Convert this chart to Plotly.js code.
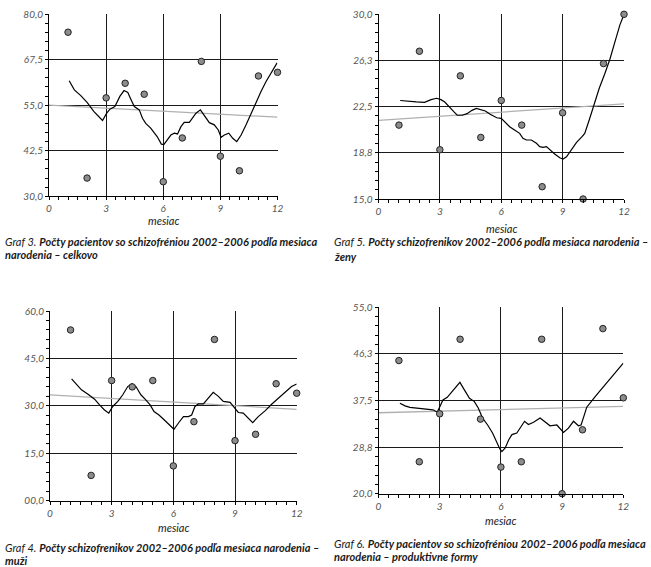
<!DOCTYPE html>
<html>
<head>
<meta charset="utf-8">
<script src="https://cdn.plot.ly/plotly-3.0.1.min.js"></script>
<style>
  html, body { margin: 0; padding: 0; background: #fff; }
  #chart { width: 651px; height: 567px; }
</style>
</head>
<body>
<div id="chart"></div>
<script>
// ---- data ----
const months = [1, 2, 3, 4, 5, 6, 7, 8, 9, 10, 11, 12];
const xTickVals = [0, 3, 6, 9, 12];
const xTickText = ['0', '3', '6', '9', '12'];
const trendX = [0, 12];

// Graf 3 – celkovo
const celkovo = [75, 35, 57, 61, 58, 34, 46, 67, 41, 37, 63, 64];
const celkovoTrend = [55.0, 51.7];
const celkovoCurveX = [1.06,1.33,1.67,2.01,2.35,2.61,2.81,3.03,3.2,3.46,3.72,3.94,4.14,4.31,4.48,4.74,4.91,5.08,5.34,5.68,5.9,6.03,6.18,6.4,6.58,6.75,6.93,7.1,7.37,7.54,7.72,7.95,8.16,8.42,8.68,8.89,9.04,9.21,9.44,9.65,9.86,10.09,10.35,10.61,10.88,11.14,11.4,11.75,11.98];
const celkovoCurveY = [61.7,59.2,57.6,55.7,53.3,52.0,50.8,52.8,53.9,54.6,57.4,59.0,58.5,56.5,54.6,53.7,51.4,50.0,48.7,46.4,44.3,44.2,45.4,46.8,47.3,47.1,49.1,50.3,50.3,51.4,52.8,53.7,52.1,50.2,49.6,48.2,46.2,46.8,47.3,45.9,45.0,46.8,49.6,52.8,55.6,58.8,61.5,64.7,66.6];
const celkovoTickVals = [30, 42.5, 55, 67.5, 80];
const celkovoTickText = ['30,0', '42,5', '55,0', '67,5', '80,0'];

// Graf 5 – ženy
const zeny = [21, 27, 19, 25, 20, 23, 21, 16, 22, 15, 26, 30];
const zenyTrend = [21.39, 22.72];
const zenyCurveX = [1.06,1.44,1.85,2.25,2.57,2.84,3.05,3.24,3.45,3.69,3.85,4.09,4.33,4.57,4.78,4.98,5.22,5.46,5.78,6.0,6.16,6.41,6.65,6.9,7.06,7.23,7.47,7.72,7.88,8.04,8.21,8.37,8.61,8.86,9.02,9.19,9.43,9.68,9.95,10.08,10.3,10.54,10.79,11.07,11.31,11.56,11.8,12.0];
const zenyCurveY = [23.0,22.93,22.88,22.85,23.07,23.18,23.07,22.88,22.47,22.07,21.8,21.8,21.93,22.2,22.36,22.26,22.15,21.88,21.6,21.55,21.28,20.87,20.6,20.33,19.93,19.79,19.79,19.52,19.25,19.19,19.25,18.98,18.65,18.35,18.25,18.43,18.98,19.6,20.06,20.33,21.42,22.77,23.99,25.21,26.35,27.78,29.14,29.98];
const zenyTickVals = [15, 18.75, 22.5, 26.25, 30];
const zenyTickText = ['15,0', '18,8', '22,5', '26,3', '30,0'];

// Graf 4 – muži
const muzi = [54, 8, 38, 36, 38, 11, 25, 51, 19, 21, 37, 34];
const muziTrend = [33.5, 28.9];
const muziCurveX = [1.05,1.29,1.53,1.85,2.17,2.41,2.65,2.86,3.05,3.3,3.54,3.78,3.99,4.18,4.42,4.66,4.87,5.06,5.3,5.55,5.79,6.03,6.24,6.49,6.73,6.89,7.05,7.22,7.46,7.7,7.94,8.19,8.43,8.76,9.0,9.16,9.4,9.65,9.86,10.13,10.46,10.78,11.1,11.43,11.75,12.0];
const muziCurveY = [38.55,36.65,35.07,33.7,32.1,30.3,28.7,27.7,29.8,31.4,33.5,36.1,37.0,36.1,33.5,31.9,30.3,28.2,27.1,25.6,24.0,22.6,24.5,26.6,26.6,27.1,29.8,30.6,30.6,32.4,34.3,33.0,31.4,31.1,29.3,27.9,27.7,26.1,24.7,26.6,28.4,30.5,32.4,34.3,36.1,36.9];
const muziTickVals = [0, 15, 30, 45, 60];
const muziTickText = ['00,0', '15,0', '30,0', '45,0', '60,0'];

// Graf 6 – produktívne formy
const produktivne = [45, 26, 35, 49, 34, 25, 26, 49, 20, 32, 51, 38];
const produktivneTrend = [35.2, 36.4];
const produktivneCurveX = [1.05,1.3,1.54,1.94,2.43,2.67,2.88,3.03,3.16,3.37,3.6,3.81,3.99,4.21,4.46,4.7,4.89,5.1,5.35,5.59,5.8,5.95,6.05,6.21,6.38,6.54,6.78,6.95,7.16,7.35,7.6,7.92,8.17,8.41,8.74,8.9,9.07,9.31,9.56,9.8,9.93,10.09,10.21,10.62,11.11,11.6,12.0];
const produktivneCurveY = [37.0,36.5,36.2,36.06,35.9,35.75,35.3,36.4,37.6,38.1,39.2,40.25,40.9,39.5,37.9,37.3,36.1,34.2,32.9,31.4,29.6,28.4,27.9,28.6,30.1,31.1,31.4,32.3,33.6,33.0,33.4,34.2,33.4,32.75,32.9,32.3,31.5,32.3,33.6,32.75,32.9,34.8,36.25,38.25,40.4,42.6,44.5];
const produktivneTickVals = [20, 28.75, 37.5, 46.25, 55];
const produktivneTickText = ['20,0', '28,8', '37,5', '46,3', '55,0'];

const xTitle = 'mesiac';
const captions = [
  ['<i>Graf 3.</i> <b><i>Počty pacientov so schizofréniou 2002–2006 podľa mesiaca</i></b>', '<b><i>narodenia – celkovo</i></b>'],
  ['<i>Graf 5.</i> <b><i>Počty schizofrenikov 2002–2006 podľa mesiaca narodenia –</i></b>', '<b><i>ženy</i></b>'],
  ['<i>Graf 4.</i> <b><i>Počty schizofrenikov 2002–2006 podľa mesiaca narodenia –</i></b>', '<b><i>muži</i></b>'],
  ['<i>Graf 6.</i> <b><i>Počty pacientov so schizofréniou 2002–2006 podľa mesiaca</i></b>', '<b><i>narodenia – produktivne formy</i></b>']
];

// ---- layout geometry (pixels in a 651 x 567 page) ----
const W = 651, H = 567;
const panels = [
  { vals: celkovo, trend: celkovoTrend, cx: celkovoCurveX, cy: celkovoCurveY, tv: celkovoTickVals, tt: celkovoTickText,
    minor: 2.5, px: [49, 277.5], py: [14, 196.3], cap: captions[0], capX: 3, capY: [241.5, 254.5], titleY: 221 },
  { vals: zeny, trend: zenyTrend, cx: zenyCurveX, cy: zenyCurveY, tv: zenyTickVals, tt: zenyTickText,
    minor: 0.75, px: [378.5, 624], py: [14.3, 199], cap: captions[1], capX: 332, capY: [241.5, 256], titleY: 229 },
  { vals: muzi, trend: muziTrend, cx: muziCurveX, cy: muziCurveY, tv: muziTickVals, tt: muziTickText,
    minor: 3, px: [50, 296.7], py: [311, 500.7], cap: captions[2], capX: 3, capY: [547, 560.5], titleY: 527 },
  { vals: produktivne, trend: produktivneTrend, cx: produktivneCurveX, cy: produktivneCurveY, tv: produktivneTickVals, tt: produktivneTickText,
    minor: 1.75, px: [378.5, 623.3], py: [307.3, 493.7], cap: captions[3], capX: 332, capY: [543, 556], titleY: 520 }
];

const tickFont = { family: 'Lato, "Open Sans", sans-serif', size: 10, color: '#555', style: 'italic' };
const traces = [];
const layout = {
  width: W, height: H,
  margin: { l: 0, r: 0, t: 0, b: 0 },
  paper_bgcolor: '#fff', plot_bgcolor: '#fff',
  showlegend: false,
  annotations: []
};

panels.forEach((p, i) => {
  const n = i === 0 ? '' : String(i + 1);
  const xa = 'x' + n, ya = 'y' + n;
  layout['xaxis' + n] = {
    domain: [p.px[0] / W, p.px[1] / W], anchor: ya,
    range: [0, 12], tickmode: 'array', tickvals: xTickVals, ticktext: xTickText,
    ticks: 'outside', ticklen: 3, tickcolor: '#000', tickwidth: 1,
    showline: true, linecolor: '#000', linewidth: 1,
    showgrid: true, gridcolor: '#1a1a1a', gridwidth: 1, zeroline: false,
    tickfont: tickFont,
    minor: { tickmode: 'linear', tick0: 0, dtick: 0.5, ticks: 'outside', ticklen: 3, tickcolor: '#000', showgrid: false },
    fixedrange: true
  };
  layout['yaxis' + n] = {
    domain: [1 - p.py[1] / H, 1 - p.py[0] / H], anchor: xa,
    range: [p.tv[0], p.tv[p.tv.length - 1]], tickmode: 'array', tickvals: p.tv, ticktext: p.tt,
    ticks: 'outside', ticklen: 3, tickcolor: '#000', tickwidth: 1,
    showline: true, linecolor: '#000', linewidth: 1,
    showgrid: true, gridcolor: '#1a1a1a', gridwidth: 1, zeroline: false,
    tickfont: tickFont,
    minor: { tickmode: 'linear', tick0: p.tv[0], dtick: p.minor, ticks: 'outside', ticklen: 3, tickcolor: '#000', showgrid: false },
    fixedrange: true
  };
  traces.push({ x: trendX, y: p.trend, xaxis: xa, yaxis: ya, mode: 'lines',
    line: { color: '#b0b0b0', width: 1.3 }, hoverinfo: 'skip' });
  traces.push({ x: p.cx, y: p.cy, xaxis: xa, yaxis: ya, mode: 'lines',
    line: { color: '#000', width: 1.2 }, hoverinfo: 'skip' });
  traces.push({ x: months, y: p.vals, xaxis: xa, yaxis: ya, mode: 'markers', cliponaxis: false,
    marker: { size: 6.5, color: '#8c8c8c', line: { color: '#222', width: 1 } } });

  layout.annotations.push({
    xref: 'paper', yref: 'paper', x: (p.px[0] + p.px[1]) / 2 / W, y: 1 - p.titleY / H,
    xanchor: 'center', yanchor: 'middle', showarrow: false, text: '<i>' + xTitle + '</i>',
    font: { family: 'Lato, "Open Sans", sans-serif', size: 11, color: '#222' }
  });
  p.cap.forEach((line, k) => {
    layout.annotations.push({
      xref: 'paper', yref: 'paper', x: p.capX / W, y: 1 - p.capY[k] / H,
      xanchor: 'left', yanchor: 'middle', align: 'left', showarrow: false, text: line,
      font: { family: 'Lato, "Open Sans", sans-serif', size: 11, color: '#1a1a1a' }
    });
  });
});

Plotly.newPlot('chart', traces, layout, { staticPlot: true, displayModeBar: false });
</script>
</body>
</html>
